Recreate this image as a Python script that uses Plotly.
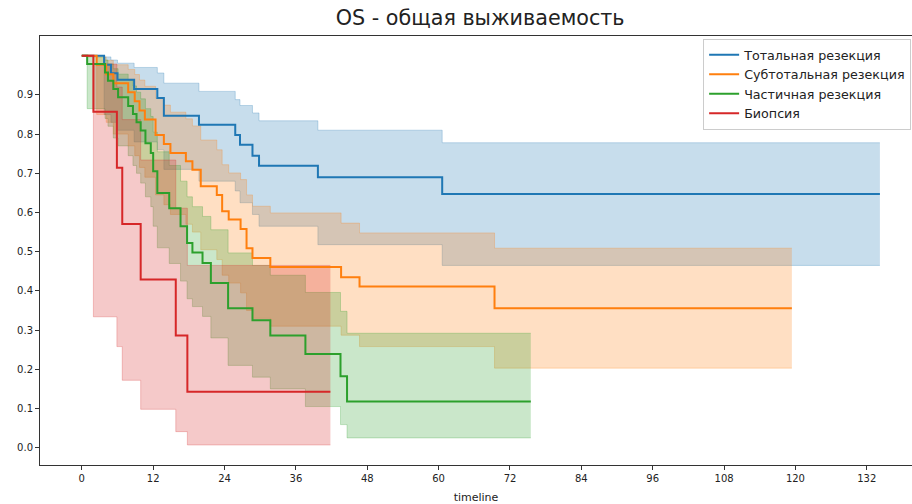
import plotly.graph_objects as go

# Kaplan-Meier estimates (months) with 95% confidence bands, one block per group
total_t = [0, 3.75, 4.9, 6.0, 8.8, 12.7, 13.8, 19.7, 25.8, 26.6, 28.7, 29.8, 39.7, 60.6, 134.2]
total_s = [1.0, 0.977, 0.955, 0.939, 0.915, 0.892, 0.847, 0.824, 0.798, 0.773, 0.745, 0.719, 0.690, 0.647, 0.647]
total_hi = [1.0, 0.997, 0.989, 0.981, 0.970, 0.956, 0.930, 0.909, 0.888, 0.873, 0.854, 0.834, 0.810, 0.778, 0.778]
total_lo = [1.0, 0.85, 0.83, 0.81, 0.78, 0.76, 0.71, 0.68, 0.655, 0.625, 0.595, 0.565, 0.518, 0.465, 0.465]

subtotal_t = [0, 2.5, 4.1, 5.3, 7.8, 8.9, 9.7, 10.6, 12.4, 13.8, 14.9, 17.5, 18.6, 20.0, 22.7,
              23.6, 24.7, 26.7, 27.7, 28.7, 31.7, 43.6, 46.7, 69.4, 119.4]
subtotal_s = [1.0, 0.977, 0.953, 0.930, 0.907, 0.884, 0.860, 0.837, 0.798, 0.775, 0.752, 0.731, 0.709, 0.667, 0.645,
              0.603, 0.582, 0.558, 0.509, 0.484, 0.461, 0.435, 0.411, 0.356, 0.356]
subtotal_hi = [1.0, 0.997, 0.988, 0.977, 0.965, 0.952, 0.938, 0.922, 0.892, 0.874, 0.856, 0.839, 0.821, 0.785, 0.760,
               0.722, 0.701, 0.684, 0.645, 0.616, 0.599, 0.573, 0.548, 0.509, 0.509]
subtotal_lo = [1.0, 0.85, 0.83, 0.80, 0.77, 0.745, 0.715, 0.69, 0.645, 0.62, 0.595, 0.57, 0.55, 0.505, 0.48,
               0.44, 0.42, 0.395, 0.35, 0.33, 0.31, 0.287, 0.258, 0.203, 0.203]

partial_t = [0, 0.9, 3.9, 4.4, 5.3, 6.1, 7.8, 8.6, 9.2, 9.9, 10.7, 11.6, 12.0, 12.7, 14.7, 16.6, 17.7, 18.6,
             20.3, 21.7, 24.6, 28.7, 31.7, 37.6, 43.5, 44.6, 75.5]
partial_s = [1.0, 0.979, 0.957, 0.936, 0.915, 0.894, 0.872, 0.851, 0.830, 0.809, 0.777, 0.752, 0.705, 0.650, 0.611,
             0.565, 0.522, 0.498, 0.471, 0.420, 0.356, 0.325, 0.286, 0.239, 0.182, 0.118, 0.118]
partial_hi = [1.0, 0.997, 0.989, 0.979, 0.967, 0.953, 0.938, 0.923, 0.907, 0.89, 0.865, 0.845, 0.805, 0.755, 0.72,
              0.68, 0.64, 0.615, 0.59, 0.556, 0.497, 0.465, 0.44, 0.396, 0.348, 0.292, 0.292]
partial_lo = [1.0, 0.865, 0.84, 0.82, 0.79, 0.77, 0.745, 0.72, 0.70, 0.675, 0.64, 0.615, 0.565, 0.51, 0.47,
              0.425, 0.38, 0.36, 0.335, 0.28, 0.21, 0.18, 0.15, 0.105, 0.059, 0.025, 0.025]

biopsy_t = [0, 1.95, 5.9, 6.8, 9.9, 15.8, 17.75, 41.8]
biopsy_s = [1.0, 0.857, 0.714, 0.571, 0.429, 0.286, 0.143, 0.143]
biopsy_hi = [1.0, 0.979, 0.920, 0.837, 0.734, 0.611, 0.465, 0.465]
biopsy_lo = [1.0, 0.334, 0.258, 0.172, 0.098, 0.041, 0.007, 0.007]

groups = [
    ("Тотальная резекция", (31, 119, 180), total_t, total_s, total_hi, total_lo),
    ("Субтотальная резекция", (255, 127, 14), subtotal_t, subtotal_s, subtotal_hi, subtotal_lo),
    ("Частичная резекция", (44, 160, 44), partial_t, partial_s, partial_hi, partial_lo),
    ("Биопсия", (214, 39, 40), biopsy_t, biopsy_s, biopsy_hi, biopsy_lo),
]

x_ticks = [0, 12, 24, 36, 48, 60, 72, 84, 96, 108, 120, 132]
y_ticks = [0.0, 0.1, 0.2, 0.3, 0.4, 0.5, 0.6, 0.7, 0.8, 0.9]

fig = go.Figure()

# confidence bands first (drawn under all survival lines)
for name, (r, g, b), t, s, hi, lo in groups:
    band = f"rgba({r},{g},{b},0.25)"
    fig.add_trace(go.Scatter(x=t, y=hi, mode="lines", line=dict(shape="hv", width=1, color=band),
                             showlegend=False, hoverinfo="skip"))
    fig.add_trace(go.Scatter(x=t, y=lo, mode="lines", line=dict(shape="hv", width=1, color=band),
                             fill="tonexty", fillcolor=band, showlegend=False, hoverinfo="skip"))

for name, (r, g, b), t, s, hi, lo in groups:
    fig.add_trace(go.Scatter(x=t, y=s, mode="lines", name=name,
                             line=dict(shape="hv", width=2, color=f"rgb({r},{g},{b})")))

fig.update_layout(
    width=912, height=504,
    margin=dict(l=40, r=0, t=36, b=39),
    paper_bgcolor="white", plot_bgcolor="white",
    font=dict(family="DejaVu Sans", size=10, color="#222222"),
    title=dict(text="OS - общая выживаемость", x=0.5265, xanchor="center", y=0.965, yanchor="middle",
               font=dict(size=20.7, color="#222222")),
    legend=dict(x=0.999, y=0.993, xanchor="right", yanchor="top", bgcolor="rgba(255,255,255,0.85)",
                bordercolor="#cccccc", borderwidth=1, font=dict(size=12.7, color="#222222"),
                traceorder="normal", tracegroupgap=0, itemwidth=30),
    xaxis=dict(range=[-7.03, 139.6], tickvals=x_ticks, ticks="outside", ticklen=4, tickcolor="#333333",
               showline=True, linecolor="#333333", linewidth=1, mirror=True, showgrid=False, zeroline=False,
               title=dict(text="timeline", font=dict(size=11), standoff=10)),
    yaxis=dict(range=[-0.0441, 1.0503], tickvals=y_ticks, tickformat=".1f", ticks="outside", ticklen=4,
               tickcolor="#333333", showline=True, linecolor="#333333", linewidth=1, showgrid=False,
               zeroline=False),
)

fig.write_html("out.html")
